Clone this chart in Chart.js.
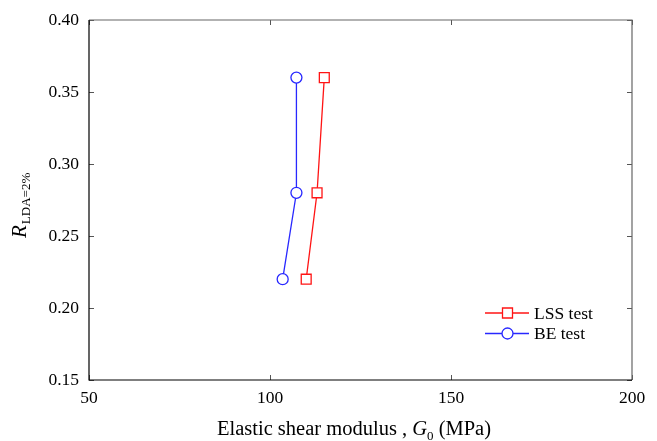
<!DOCTYPE html>
<html>
<head>
<meta charset="utf-8">
<script src="https://cdn.jsdelivr.net/npm/chart.js@4.4.1/dist/chart.umd.min.js"></script>
<style>
  html, body { margin: 0; padding: 0; background: #fff; }
  #wrap { width: 657px; height: 441px; position: relative; }
</style>
</head>
<body>
<div id="wrap"><canvas id="chart"></canvas></div>
<script>
// G0 (MPa) vs R at LDA = 2%
const lssG0 = [110.0, 113.0, 115.0]
const lssR = [0.22, 0.28, 0.36]
const beG0 = [103.5, 107.3, 107.3]
const beR = [0.22, 0.28, 0.36]
const seriesNames = ['LSS test', 'BE test']
const xTicks = [50, 100, 150, 200]
const yTicks = [0.15, 0.20, 0.25, 0.30, 0.35, 0.40]

const SERIF = '"Liberation Serif", "Times New Roman", serif'
const RED = 'rgb(255, 20, 20)'
const BLUE = 'rgb(40, 40, 255)'

const toPoints = (xs, ys) => xs.map((x, i) => ({ x: x, y: ys[i] }))

// inward tick marks on all four sides of the frame
const innerTicks = {
  id: 'innerTicks',
  afterDraw(chart) {
    const { ctx, chartArea: a, scales } = chart
    ctx.save()
    ctx.strokeStyle = '#555'
    ctx.lineWidth = 1
    ctx.beginPath()
    xTicks.forEach(v => {
      const px = Math.round(scales.x.getPixelForValue(v)) + 0.5
      ctx.moveTo(px, a.bottom); ctx.lineTo(px, a.bottom - 5)
      ctx.moveTo(px, a.top); ctx.lineTo(px, a.top + 5)
    })
    yTicks.forEach(v => {
      const py = Math.round(scales.y.getPixelForValue(v)) + 0.5
      ctx.moveTo(a.left, py); ctx.lineTo(a.left + 5, py)
      ctx.moveTo(a.right, py); ctx.lineTo(a.right - 5, py)
    })
    ctx.stroke()

    // frame: left/bottom black, top/right grey
    ctx.lineWidth = 1.2
    ctx.strokeStyle = '#666'
    ctx.beginPath()
    ctx.moveTo(a.left, a.top); ctx.lineTo(a.right, a.top); ctx.lineTo(a.right, a.bottom)
    ctx.stroke()
    ctx.strokeStyle = '#000'
    ctx.beginPath()
    ctx.moveTo(a.left, a.top); ctx.lineTo(a.left, a.bottom); ctx.lineTo(a.right, a.bottom)
    ctx.stroke()
    ctx.restore()
  }
}

// axis titles with italic symbols and subscripts
const axisTitles = {
  id: 'axisTitles',
  afterDraw(chart) {
    const { ctx, chartArea: a } = chart
    ctx.save()
    ctx.fillStyle = '#000'
    ctx.textBaseline = 'alphabetic'

    // x title
    const parts = [
      { t: 'Elastic shear modulus , ', f: '20.5px ' + SERIF, dy: 0 },
      { t: 'G', f: 'italic 20.5px ' + SERIF, dy: 0 },
      { t: '0', f: '13px ' + SERIF, dy: 5 },
      { t: ' (MPa)', f: '20.5px ' + SERIF, dy: 0 }
    ]
    let total = 0
    parts.forEach(p => { ctx.font = p.f; p.w = ctx.measureText(p.t).width; total += p.w })
    let x = 354 - total / 2
    const base = 435
    parts.forEach(p => {
      ctx.font = p.f
      ctx.fillText(p.t, x, base + p.dy)
      x += p.w
    })

    // y title, rotated
    ctx.translate(26, 238)
    ctx.rotate(-Math.PI / 2)
    ctx.font = 'italic 21px ' + SERIF
    ctx.fillText('R', 0, 0)
    const rw = ctx.measureText('R').width
    ctx.font = '13px ' + SERIF
    ctx.fillText('LDA=2%', rw + 1, 4)
    ctx.restore()
  }
}

// legend inside the plot, line-marker-line style
const innerLegend = {
  id: 'innerLegend',
  afterDraw(chart) {
    const { ctx } = chart
    ctx.save()
    ctx.font = '17.5px ' + SERIF
    ctx.textBaseline = 'middle'
    chart.data.datasets.forEach((ds, i) => {
      const y = 313 + i * 20.5
      ctx.strokeStyle = ds.borderColor
      ctx.lineWidth = 1.3
      ctx.beginPath()
      ctx.moveTo(485, y); ctx.lineTo(529, y)
      ctx.stroke()
      ctx.fillStyle = '#fff'
      ctx.beginPath()
      if (ds.pointStyle === 'rect') ctx.rect(502.5, y - 5, 10, 10)
      else ctx.arc(507.5, y, 5.5, 0, Math.PI * 2)
      ctx.fill(); ctx.stroke()
      ctx.fillStyle = '#000'
      ctx.fillText(ds.label, 534, y + 1)
    })
    ctx.restore()
  }
}

new Chart(document.getElementById('chart'), {
  type: 'scatter',
  data: {
    datasets: [
      {
        label: seriesNames[0],
        data: toPoints(lssG0, lssR),
        showLine: true,
        borderColor: RED,
        backgroundColor: '#fff',
        borderWidth: 1.3,
        pointStyle: 'rect',
        pointRadius: 7,
        pointBorderWidth: 1.3
      },
      {
        label: seriesNames[1],
        data: toPoints(beG0, beR),
        showLine: true,
        borderColor: BLUE,
        backgroundColor: '#fff',
        borderWidth: 1.3,
        pointStyle: 'circle',
        pointRadius: 5.5,
        pointBorderWidth: 1.3
      }
    ]
  },
  options: {
    responsive: true,
    maintainAspectRatio: false,
    animation: false,
    layout: { padding: { left: 0, top: 20, right: 25, bottom: 0 } },
    plugins: {
      legend: { display: false },
      tooltip: { enabled: false }
    },
    scales: {
      x: {
        type: 'linear',
        min: 50,
        max: 200,
        afterBuildTicks: (s) => { s.ticks = xTicks.map(v => ({ value: v })) },
        afterFit: (s) => { s.height = 61 },
        border: { display: false },
        grid: { display: false },
        ticks: {
          color: '#000',
          padding: 0,
          font: { family: SERIF, size: 17.5 }
        }
      },
      y: {
        type: 'linear',
        min: 0.15,
        max: 0.40,
        afterBuildTicks: (s) => { s.ticks = yTicks.map(v => ({ value: v })) },
        afterFit: (s) => { s.width = 89 },
        border: { display: false },
        grid: { display: false },
        ticks: {
          color: '#000',
          padding: 2,
          font: { family: SERIF, size: 17.5 },
          callback: (v) => v.toFixed(2)
        }
      }
    }
  },
  plugins: [innerTicks, axisTitles, innerLegend]
})
</script>
</body>
</html>
